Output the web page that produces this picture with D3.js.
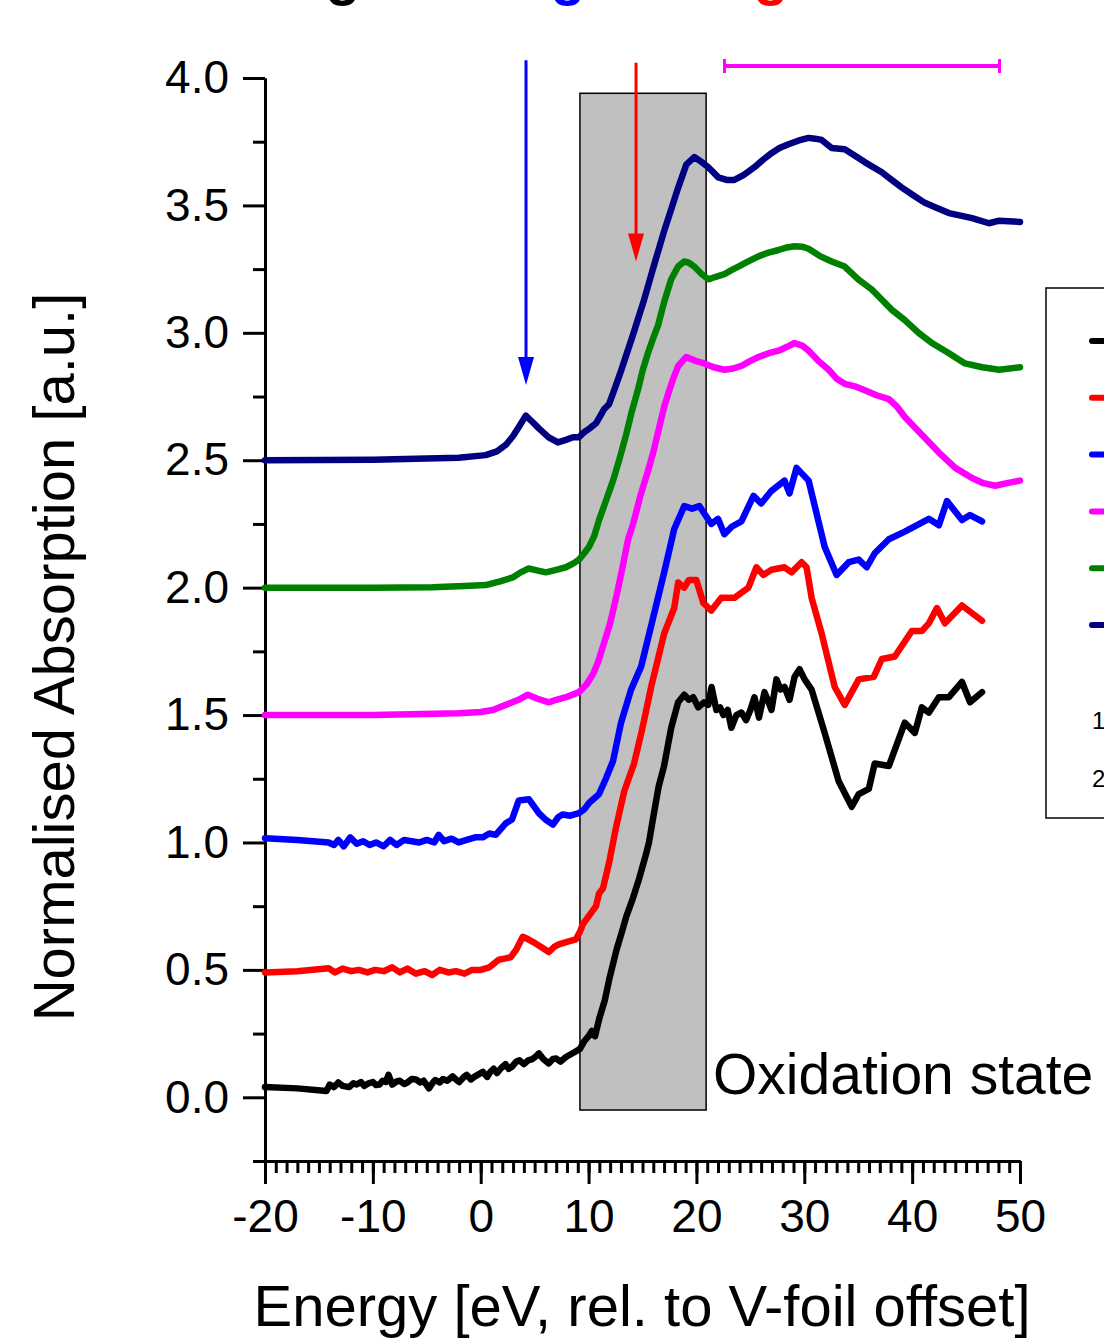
<!DOCTYPE html>
<html>
<head>
<meta charset="utf-8">
<script src="https://cdn.jsdelivr.net/npm/d3@7"></script>
<style>
  body { margin: 0; background: #fff; }
  svg { display: block; font-family: "Liberation Sans", Arial, sans-serif; }
</style>
</head>
<body>
<div id="chart"></div>
<script>
// spectra: [energy eV, normalised absorption (stacked)]
var black = [[-20,0.04],[-17,0.035],[-14.3,0.025],[-14,0.05],[-13.6,0.04],[-13.2,0.058],[-12.8,0.045],[-12.2,0.04],[-11.8,0.055],[-11.5,0.05],[-11.1,0.06],[-10.8,0.045],[-10.4,0.055],[-10,0.06],[-9.7,0.048],[-9.4,0.05],[-9.1,0.065],[-8.8,0.06],[-8.55,0.088],[-8.2,0.05],[-7.8,0.062],[-7.5,0.065],[-7.1,0.052],[-6.8,0.058],[-6.4,0.072],[-6,0.07],[-5.6,0.058],[-5.3,0.065],[-4.8,0.035],[-4.4,0.06],[-4.2,0.068],[-3.8,0.058],[-3.5,0.072],[-3.1,0.065],[-2.6,0.082],[-2.3,0.07],[-2,0.06],[-1.6,0.078],[-1.3,0.088],[-0.9,0.07],[-0.6,0.08],[-0.2,0.09],[0.2,0.1],[0.6,0.08],[0.9,0.1],[1.2,0.112],[1.5,0.095],[1.9,0.115],[2.3,0.13],[2.6,0.112],[2.9,0.12],[3.3,0.14],[3.6,0.145],[4.0,0.13],[4.4,0.145],[4.8,0.15],[5.1,0.16],[5.4,0.172],[5.8,0.15],[6.3,0.133],[6.7,0.15],[7.0,0.152],[7.4,0.14],[7.9,0.158],[8.4,0.17],[8.8,0.18],[9.2,0.19],[9.6,0.22],[10.0,0.24],[10.3,0.26],[10.6,0.24],[11.0,0.31],[11.5,0.38],[11.9,0.46],[12.6,0.58],[13.1,0.65],[13.5,0.71],[14.1,0.78],[14.7,0.86],[15.3,0.95],[15.6,1.0],[16.0,1.1],[16.5,1.22],[17.0,1.3],[17.66,1.45],[18.3,1.55],[18.87,1.58],[19.3,1.56],[19.7,1.57],[20.17,1.53],[20.7,1.55],[21.1,1.54],[21.4,1.61],[21.85,1.52],[22.2,1.53],[22.5,1.5],[22.9,1.52],[23.24,1.45],[23.7,1.5],[24.17,1.51],[24.6,1.48],[25.0,1.52],[25.38,1.57],[25.8,1.49],[26.31,1.59],[26.7,1.55],[26.96,1.52],[27.42,1.64],[27.8,1.6],[28.17,1.61],[28.63,1.56],[29.1,1.65],[29.56,1.68],[30.03,1.64],[30.68,1.6],[31.89,1.43],[33.19,1.24],[34.4,1.14],[35.05,1.19],[35.98,1.21],[36.53,1.31],[37.84,1.3],[39.32,1.47],[40.25,1.43],[40.9,1.53],[41.55,1.51],[42.48,1.57],[43.41,1.57],[44.62,1.63],[45.37,1.55],[46.48,1.59]];
var red = [[-20,0.49],[-17,0.495],[-14.1,0.506],[-13.5,0.49],[-12.8,0.505],[-12,0.495],[-11.3,0.5],[-10.5,0.49],[-9.8,0.5],[-9,0.495],[-8.2,0.51],[-7.5,0.49],[-6.8,0.505],[-6,0.485],[-5.2,0.495],[-4.5,0.48],[-3.8,0.5],[-3,0.49],[-2.3,0.495],[-1.5,0.485],[-0.8,0.5],[0,0.5],[0.8,0.51],[1.67,0.54],[2.3,0.545],[2.79,0.55],[3.3,0.58],[3.9,0.63],[4.4,0.62],[4.83,0.61],[5.6,0.59],[6.32,0.57],[6.8,0.59],[7.25,0.6],[8.0,0.61],[8.83,0.62],[9.2,0.65],[9.48,0.68],[10.0,0.71],[10.69,0.75],[10.97,0.8],[11.34,0.82],[11.9,0.92],[12.55,1.06],[13.3,1.2],[14.22,1.31],[15.0,1.45],[15.8,1.61],[17.01,1.82],[17.94,1.92],[18.31,2.02],[18.87,2.0],[19.3,2.03],[19.99,2.03],[20.64,1.94],[21.38,1.91],[22.31,1.96],[23.52,1.96],[24.82,2.0],[25.56,2.08],[26.2,2.05],[26.96,2.07],[28.17,2.08],[28.82,2.06],[29.75,2.1],[30.21,2.08],[30.68,1.96],[31.61,1.82],[32.82,1.61],[33.75,1.54],[35.05,1.64],[36.44,1.65],[37.19,1.72],[38.39,1.73],[39.97,1.83],[40.9,1.83],[41.55,1.86],[42.3,1.92],[43.04,1.86],[44.62,1.93],[46.48,1.87]];
var blue = [[-20,1.017],[-17,1.01],[-14.1,1.0],[-13.6,0.99],[-13.2,1.01],[-12.7,0.985],[-12.1,1.02],[-11.5,0.995],[-10.9,1.005],[-10.3,0.99],[-9.7,1.0],[-9,0.985],[-8.4,1.01],[-7.8,0.99],[-7.1,1.01],[-6.4,1.005],[-5.7,1.0],[-5,1.01],[-4.3,1.0],[-3.9,1.03],[-3.4,1.005],[-2.7,1.015],[-2.05,1.0],[-1.3,1.01],[-0.5,1.02],[0.19,1.02],[0.8,1.035],[1.39,1.03],[2.32,1.075],[2.9,1.09],[3.53,1.165],[4.46,1.17],[5.39,1.115],[6.0,1.09],[6.69,1.07],[7.2,1.1],[7.62,1.11],[8.3,1.105],[9.11,1.115],[9.6,1.13],[10.04,1.155],[10.97,1.19],[11.6,1.25],[12.27,1.32],[13.01,1.47],[13.94,1.6],[14.87,1.69],[15.8,1.85],[17.01,2.06],[17.94,2.23],[18.87,2.32],[19.6,2.31],[20.27,2.32],[21.38,2.25],[22.0,2.27],[22.59,2.21],[23.3,2.24],[24.17,2.26],[25.29,2.36],[26.0,2.33],[26.96,2.38],[28.17,2.42],[28.63,2.37],[29.28,2.47],[30.4,2.42],[31.89,2.16],[33.0,2.05],[34.12,2.1],[35.05,2.11],[35.79,2.08],[36.53,2.135],[37.84,2.19],[39.32,2.22],[41.55,2.27],[42.48,2.245],[43.23,2.34],[44.62,2.265],[45.37,2.285],[46.48,2.26]];
var magenta = [[-20,1.5],[-10,1.5],[-2.05,1.507],[0,1.512],[1.12,1.52],[2.32,1.54],[3.5,1.56],[4.37,1.58],[5.2,1.565],[6.32,1.55],[7.0,1.56],[7.9,1.57],[9.11,1.59],[9.8,1.62],[10.41,1.66],[10.9,1.71],[11.34,1.77],[12.0,1.86],[12.55,1.96],[13.1,2.07],[13.67,2.19],[14.13,2.25],[14.8,2.36],[15.52,2.46],[15.99,2.53],[16.5,2.62],[17.01,2.71],[17.45,2.77],[17.85,2.82],[18.31,2.87],[19.06,2.905],[19.9,2.89],[20.73,2.88],[21.6,2.865],[22.59,2.855],[23.4,2.86],[24.17,2.87],[25.0,2.89],[25.75,2.905],[26.7,2.92],[27.61,2.93],[28.4,2.945],[29.1,2.96],[29.8,2.95],[30.4,2.93],[31.3,2.89],[32.26,2.855],[33.0,2.82],[33.75,2.8],[34.7,2.79],[35.6,2.775],[36.7,2.755],[37.84,2.74],[38.6,2.71],[39.32,2.67],[40.9,2.6],[42.48,2.53],[44.0,2.47],[45.55,2.43],[46.6,2.41],[47.69,2.4],[48.8,2.41],[50,2.42]];
var green = [[-20,2.0],[-10,2.0],[-4.46,2.002],[-1.5,2.006],[0.46,2.01],[1.8,2.025],[2.97,2.04],[3.7,2.06],[4.46,2.075],[5.2,2.068],[6.04,2.06],[7.0,2.07],[7.9,2.08],[8.6,2.095],[9.11,2.11],[9.6,2.135],[10.04,2.16],[10.5,2.2],[10.97,2.265],[11.6,2.34],[12.27,2.42],[12.9,2.51],[13.48,2.6],[14.0,2.69],[14.6,2.78],[15.0,2.85],[15.5,2.92],[16.0,2.98],[16.45,3.03],[17.0,3.12],[17.66,3.21],[18.3,3.26],[18.87,3.28],[19.3,3.275],[19.8,3.26],[20.5,3.23],[21.1,3.21],[21.8,3.22],[22.59,3.23],[23.2,3.245],[23.89,3.26],[24.8,3.28],[25.75,3.3],[26.7,3.315],[27.61,3.325],[28.4,3.335],[29.1,3.34],[29.8,3.338],[30.4,3.33],[31.5,3.3],[32.54,3.28],[33.75,3.26],[35.0,3.21],[36.26,3.17],[37.2,3.13],[38.12,3.09],[39.32,3.05],[40.6,3.0],[41.83,2.96],[43.41,2.92],[44.9,2.88],[46.5,2.865],[48.06,2.855],[50,2.865]];
var navy = [[-20,2.5],[-10,2.502],[-2.05,2.51],[0.46,2.52],[1.5,2.535],[2.32,2.56],[3.0,2.595],[3.53,2.63],[4.18,2.675],[4.8,2.65],[5.39,2.625],[6.3,2.59],[7.16,2.57],[7.9,2.58],[8.55,2.59],[9.11,2.59],[9.58,2.61],[10.1,2.625],[10.69,2.645],[11.43,2.7],[11.9,2.72],[12.5,2.79],[13.0,2.85],[14.1,2.99],[15.15,3.13],[16.1,3.27],[17.01,3.4],[17.7,3.49],[18.31,3.57],[19.06,3.66],[19.8,3.69],[20.5,3.67],[21.1,3.65],[22.03,3.61],[22.8,3.6],[23.52,3.6],[24.4,3.62],[25.38,3.65],[26.2,3.68],[26.96,3.705],[27.7,3.725],[28.54,3.74],[29.5,3.755],[30.4,3.765],[31.0,3.762],[31.61,3.757],[32.54,3.725],[33.75,3.72],[34.7,3.695],[35.6,3.67],[37.19,3.63],[38.1,3.6],[39.05,3.57],[40.1,3.54],[41.18,3.51],[42.3,3.49],[43.41,3.47],[44.5,3.46],[45.55,3.45],[47.13,3.43],[48.06,3.44],[50,3.435]];

var seriesNames = ["black", "red", "blue", "magenta", "green", "navy"];
var seriesColors = ["#000000", "#ff0000", "#0000ff", "#ff00ff", "#008000", "#000080"];
var seriesData = [black, red, blue, magenta, green, navy];

var xMajorTicks = [-20, -10, 0, 10, 20, 30, 40, 50];
var yMajorTicks = [0.0, 0.5, 1.0, 1.5, 2.0, 2.5, 3.0, 3.5, 4.0];
var yMinorTicks = [-0.25, 0.25, 0.75, 1.25, 1.75, 2.25, 2.75, 3.25, 3.75];

var edgeBand = [9.2, 20.9];      // grey shaded region (eV)
var preEdgeArrow = 4.2;          // blue arrow (eV)
var edgeArrow = 14.4;            // red arrow (eV)
var exafsRange = [22.6, 48.1];   // magenta bar (eV)
var legendExtra = ["1", "2"];

var width = 1104, height = 1338;

var svg = d3.select("#chart").append("svg")
    .attr("width", width)
    .attr("height", height);

var x = d3.scaleLinear().domain([-20, 50]).range([265, 1020]);
var y = d3.scaleLinear().domain([-0.25, 4.0]).range([1161, 78]);

// title cut off at the top edge (only the descenders show)
var topGlyphs = [{ x: 343, c: "#000" }, { x: 568, c: "#0000ff" }, { x: 771, c: "#ff0000" }];
svg.selectAll(".topg").data(topGlyphs).enter().append("text")
    .attr("x", function (d) { return d.x; })
    .attr("y", -6)
    .attr("text-anchor", "middle")
    .style("font-size", "57px")
    .style("font-weight", "bold")
    .style("fill", function (d) { return d.c; })
    .text("g");

// grey band
svg.append("rect")
    .attr("x", x(edgeBand[0]))
    .attr("y", y(3.94))
    .attr("width", x(edgeBand[1]) - x(edgeBand[0]))
    .attr("height", y(-0.05) - y(3.94))
    .style("fill", "#c0c0c0")
    .style("stroke", "#000")
    .style("stroke-width", 1.5);

// axes
var xAxis = svg.append("g")
    .attr("transform", "translate(0," + y(-0.25) + ")")
    .call(d3.axisBottom(x).tickValues(xMajorTicks).tickSize(23).tickSizeOuter(0).tickPadding(15)
        .tickFormat(function (d) { return String(d); }));
svg.append("g")
    .attr("transform", "translate(0," + y(-0.25) + ")")
    .call(d3.axisBottom(x).tickValues(d3.range(-20, 51, 1)).tickSize(12).tickSizeOuter(0).tickFormat(""));

var yAxis = svg.append("g")
    .attr("transform", "translate(" + x(-20) + ",0)")
    .call(d3.axisLeft(y).tickValues(yMajorTicks).tickSize(22).tickSizeOuter(0).tickPadding(14)
        .tickFormat(d3.format(".1f")));
svg.append("g")
    .attr("transform", "translate(" + x(-20) + ",0)")
    .call(d3.axisLeft(y).tickValues(yMinorTicks).tickSize(12).tickSizeOuter(0).tickFormat(""));

svg.selectAll(".domain, .tick line")
    .style("stroke", "#000")
    .style("stroke-width", 3);
svg.selectAll(".tick text")
    .style("font-size", "46px")
    .style("fill", "#000")
    .style("font-family", "'Liberation Sans', Arial, sans-serif");
xAxis.selectAll(".tick text").attr("dy", "0.71em");

// curves
var line = d3.line()
    .x(function (d) { return x(d[0]); })
    .y(function (d) { return y(d[1]); });

svg.selectAll(".spec").data(seriesData).enter().append("path")
    .attr("class", "spec")
    .attr("d", line)
    .style("fill", "none")
    .style("stroke", function (d, i) { return seriesColors[i]; })
    .style("stroke-width", 6.5)
    .style("stroke-linejoin", "round")
    .style("stroke-linecap", "round");

// arrows
function arrow(e, v0, v1, color) {
    var px = x(e), y0 = y(v0), y1 = y(v1);
    svg.append("line")
        .attr("x1", px).attr("x2", px)
        .attr("y1", y0).attr("y2", y1 - 20)
        .style("stroke", color).style("stroke-width", 3);
    svg.append("path")
        .attr("d", "M" + (px - 8) + "," + (y1 - 28) + "L" + (px + 8) + "," + (y1 - 28) + "L" + px + "," + y1 + "Z")
        .style("fill", color);
}
arrow(preEdgeArrow, 4.07, 2.795, "#0000ff");
arrow(edgeArrow, 4.06, 3.28, "#ff0000");

// EXAFS range bar
var barY = y(4.047);
svg.append("line")
    .attr("x1", x(exafsRange[0])).attr("x2", x(exafsRange[1]))
    .attr("y1", barY).attr("y2", barY)
    .style("stroke", "#ff00ff").style("stroke-width", 4);
svg.selectAll(".cap").data(exafsRange).enter().append("line")
    .attr("x1", function (d) { return x(d); })
    .attr("x2", function (d) { return x(d); })
    .attr("y1", barY - 7).attr("y2", barY + 7)
    .style("stroke", "#ff00ff").style("stroke-width", 3);

// annotation
svg.append("text")
    .attr("x", 713)
    .attr("y", 1094)
    .style("font-size", "57px")
    .text("Oxidation state");

// axis titles
svg.append("text")
    .attr("x", 642)
    .attr("y", 1326)
    .attr("text-anchor", "middle")
    .style("font-size", "58px")
    .text("Energy [eV, rel. to V-foil offset]");

svg.append("text")
    .attr("transform", "translate(74,657) rotate(-90)")
    .attr("text-anchor", "middle")
    .style("font-size", "58px")
    .text("Normalised Absorption [a.u.]");

// legend
var legend = svg.append("g");
legend.append("rect")
    .attr("x", 1046).attr("y", 288)
    .attr("width", 200).attr("height", 530)
    .style("fill", "#fff")
    .style("stroke", "#000")
    .style("stroke-width", 1.5);
var legendY = d3.scalePoint().domain(seriesNames).range([341, 625]);
legend.selectAll(".lg").data(seriesNames).enter().append("line")
    .attr("x1", 1092).attr("x2", 1140)
    .attr("y1", function (d) { return legendY(d); })
    .attr("y2", function (d) { return legendY(d); })
    .style("stroke", function (d, i) { return seriesColors[i]; })
    .style("stroke-width", 6)
    .style("stroke-linecap", "round");
legend.selectAll(".lt").data(legendExtra).enter().append("text")
    .attr("x", 1092)
    .attr("y", function (d, i) { return 729 + i * 58; })
    .style("font-size", "24px")
    .text(function (d) { return d; });
</script>
</body>
</html>
